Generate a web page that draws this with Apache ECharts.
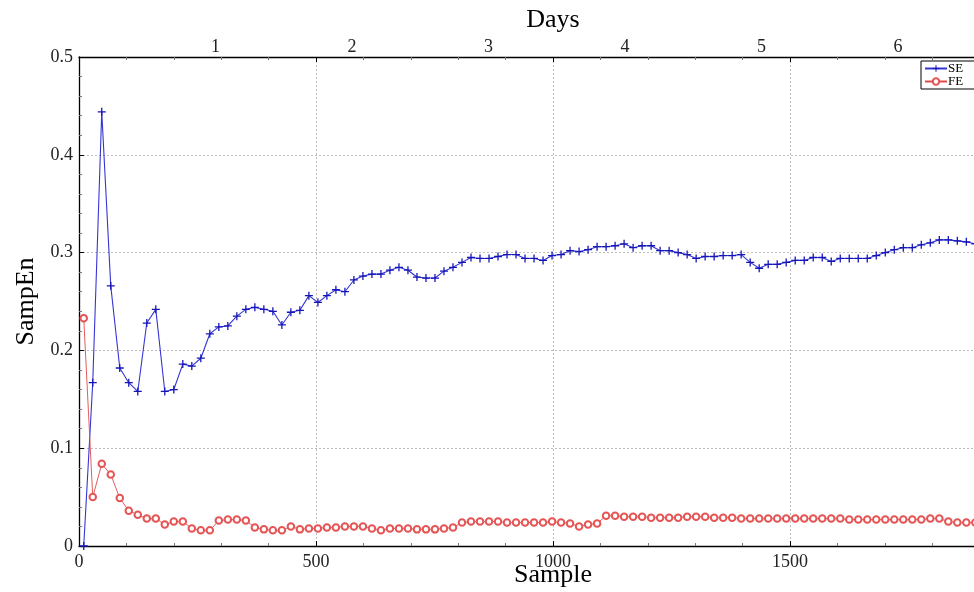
<!DOCTYPE html>
<html>
<head>
<meta charset="utf-8">
<script src="https://cdn.jsdelivr.net/npm/echarts@6/dist/echarts.min.js"></script>
<style>
  html, body { margin: 0; padding: 0; background: #fff; }
  #chart-container { width: 974px; height: 592px; }
</style>
</head>
<body>
<div id="chart-container"></div>
<script>
// sample index of the first window and step between windows
var firstSample = 10;
var sampleStep = 19;
var samplesPerDay = 288;

var seValues = [0.0, 0.167, 0.444, 0.266, 0.182, 0.167, 0.158, 0.228, 0.242, 0.158,
  0.160, 0.186, 0.184, 0.192, 0.217, 0.224, 0.225, 0.235, 0.242, 0.244,
  0.242, 0.240, 0.226, 0.239, 0.241, 0.256, 0.249, 0.256, 0.262, 0.260,
  0.272, 0.276, 0.278, 0.278, 0.282, 0.285, 0.282, 0.275, 0.274, 0.274,
  0.281, 0.285, 0.290, 0.295, 0.294, 0.294, 0.296, 0.298, 0.298, 0.294,
  0.294, 0.292, 0.297, 0.298, 0.302, 0.301, 0.303, 0.306, 0.306, 0.307,
  0.309, 0.305, 0.307, 0.307, 0.302, 0.302, 0.300, 0.298, 0.294, 0.296,
  0.296, 0.297, 0.297, 0.298, 0.290, 0.284, 0.288, 0.288, 0.290, 0.292,
  0.292, 0.295, 0.295, 0.291, 0.294, 0.294, 0.294, 0.294, 0.297, 0.300,
  0.303, 0.305, 0.305, 0.308, 0.310, 0.313, 0.313, 0.312, 0.311, 0.309];

var feValues = [0.233, 0.050, 0.084, 0.073, 0.049, 0.036, 0.032, 0.028, 0.028, 0.022,
  0.025, 0.025, 0.018, 0.016, 0.016, 0.026, 0.027, 0.027, 0.026, 0.019,
  0.017, 0.016, 0.016, 0.020, 0.017, 0.018, 0.018, 0.019, 0.019, 0.020,
  0.020, 0.020, 0.018, 0.016, 0.018, 0.018, 0.018, 0.017, 0.017, 0.017,
  0.018, 0.019, 0.024, 0.025, 0.025, 0.025, 0.025, 0.024, 0.024, 0.024,
  0.024, 0.024, 0.025, 0.024, 0.023, 0.020, 0.022, 0.023, 0.031, 0.031,
  0.030, 0.030, 0.030, 0.029, 0.029, 0.029, 0.029, 0.030, 0.030, 0.030,
  0.029, 0.029, 0.029, 0.028, 0.028, 0.028, 0.028, 0.028, 0.028, 0.028,
  0.028, 0.028, 0.028, 0.028, 0.028, 0.027, 0.027, 0.027, 0.027, 0.027,
  0.027, 0.027, 0.027, 0.027, 0.028, 0.028, 0.025, 0.024, 0.024, 0.024];

var xMin = 0, xMax = 2000;
var yMin = 0, yMax = 0.5;

function toPoints(vals) {
  return vals.map(function (v, i) { return [firstSample + sampleStep * i, v]; });
}

var serif = 'Liberation Serif';
var plusPath = 'path://M4.2,0H5.8V4.2H10V5.8H5.8V10H4.2V5.8H0V4.2H4.2Z';

var dom = document.getElementById('chart-container');
var myChart = echarts.init(dom, null, { renderer: 'canvas' });

var option = {
  backgroundColor: '#fff',
  animation: false,
  textStyle: { fontFamily: serif },
  grid: { left: 79, top: 57, width: 948, height: 489, outerBoundsMode: 'none' },
  legend: {
    left: 921, top: 61,
    orient: 'vertical',
    itemGap: 0,
    itemWidth: 22, itemHeight: 8,
    padding: [1, 40, 1, 3],
    borderColor: '#000', borderWidth: 1,
    backgroundColor: '#fff',
    textStyle: { fontFamily: serif, fontSize: 13, color: '#000', padding: [0, 0, 0, -4] },
    data: ['SE', 'FE']
  },
  xAxis: [{
    type: 'value', position: 'bottom', min: xMin, max: xMax, interval: 500,
    name: 'Sample', nameLocation: 'middle', nameGap: 16, nameMoveOverlap: false,
    nameTextStyle: { fontFamily: serif, fontSize: 26, color: '#000', verticalAlign: 'top' },
    axisLine: { lineStyle: { color: '#000', width: 1.3 } },
    axisTick: { inside: true, length: 5, lineStyle: { color: '#000' } },
    minorTick: { show: true, splitNumber: 5, length: 3, lineStyle: { color: '#777' } },
    axisLabel: {
      fontFamily: serif, fontSize: 18, color: '#222', margin: 7,
      formatter: function (v) { return String(v); }
    },
    splitLine: { show: true, lineStyle: { color: '#bbb', type: [2, 2] } }
  }, {
    type: 'value', position: 'top', min: xMin, max: xMax, interval: 500,
    axisLine: { show: true, onZero: false, lineStyle: { color: '#000', width: 1.3 } },
    axisTick: { inside: true, length: 5, lineStyle: { color: '#000' } },
    minorTick: { show: true, splitNumber: 5, length: 3, lineStyle: { color: '#777' } },
    axisLabel: { show: false },
    splitLine: { show: false }
  }, {
    type: 'value', position: 'top', min: 0, max: xMax / samplesPerDay, interval: 1,
    name: 'Days', nameLocation: 'middle', nameGap: 24, nameMoveOverlap: false,
    nameTextStyle: { fontFamily: serif, fontSize: 26, color: '#000', verticalAlign: 'bottom' },
    axisLine: { show: false },
    axisTick: { show: false },
    axisLabel: {
      fontFamily: serif, fontSize: 18, color: '#222', margin: 1,
      showMaxLabel: false,
      formatter: function (v) { return v === 0 ? '' : String(v); }
    },
    splitLine: { show: false }
  }],
  yAxis: {
    type: 'value', min: yMin, max: yMax, interval: 0.1,
    name: 'SampEn', nameLocation: 'middle', nameGap: 40, nameRotate: 90,
    nameTextStyle: { fontFamily: serif, fontSize: 26, color: '#000' },
    axisLine: { show: true, lineStyle: { color: '#000', width: 1.3 } },
    axisTick: { inside: true, length: 5, lineStyle: { color: '#000' } },
    minorTick: { show: true, splitNumber: 5, length: 3, lineStyle: { color: '#777' } },
    axisLabel: { fontFamily: serif, fontSize: 18, color: '#222', margin: 6 },
    splitLine: { show: true, lineStyle: { color: '#bbb', type: [2, 2] } }
  },
  series: [{
    name: 'SE', type: 'line', xAxisIndex: 0,
    data: toPoints(seValues),
    symbol: plusPath, symbolSize: 8,
    lineStyle: { color: '#3535d5', width: 1.1 },
    itemStyle: { color: '#1414b8' },
    z: 3
  }, {
    name: 'FE', type: 'line', xAxisIndex: 0,
    data: toPoints(feValues),
    symbol: 'emptyCircle', symbolSize: 6.5,
    lineStyle: { color: '#e24a4a', width: 0.9 },
    itemStyle: { color: '#e55555', borderWidth: 0.7 },
    z: 4
  }]
};

myChart.setOption(option);
window.addEventListener('resize', myChart.resize);
</script>
</body>
</html>
